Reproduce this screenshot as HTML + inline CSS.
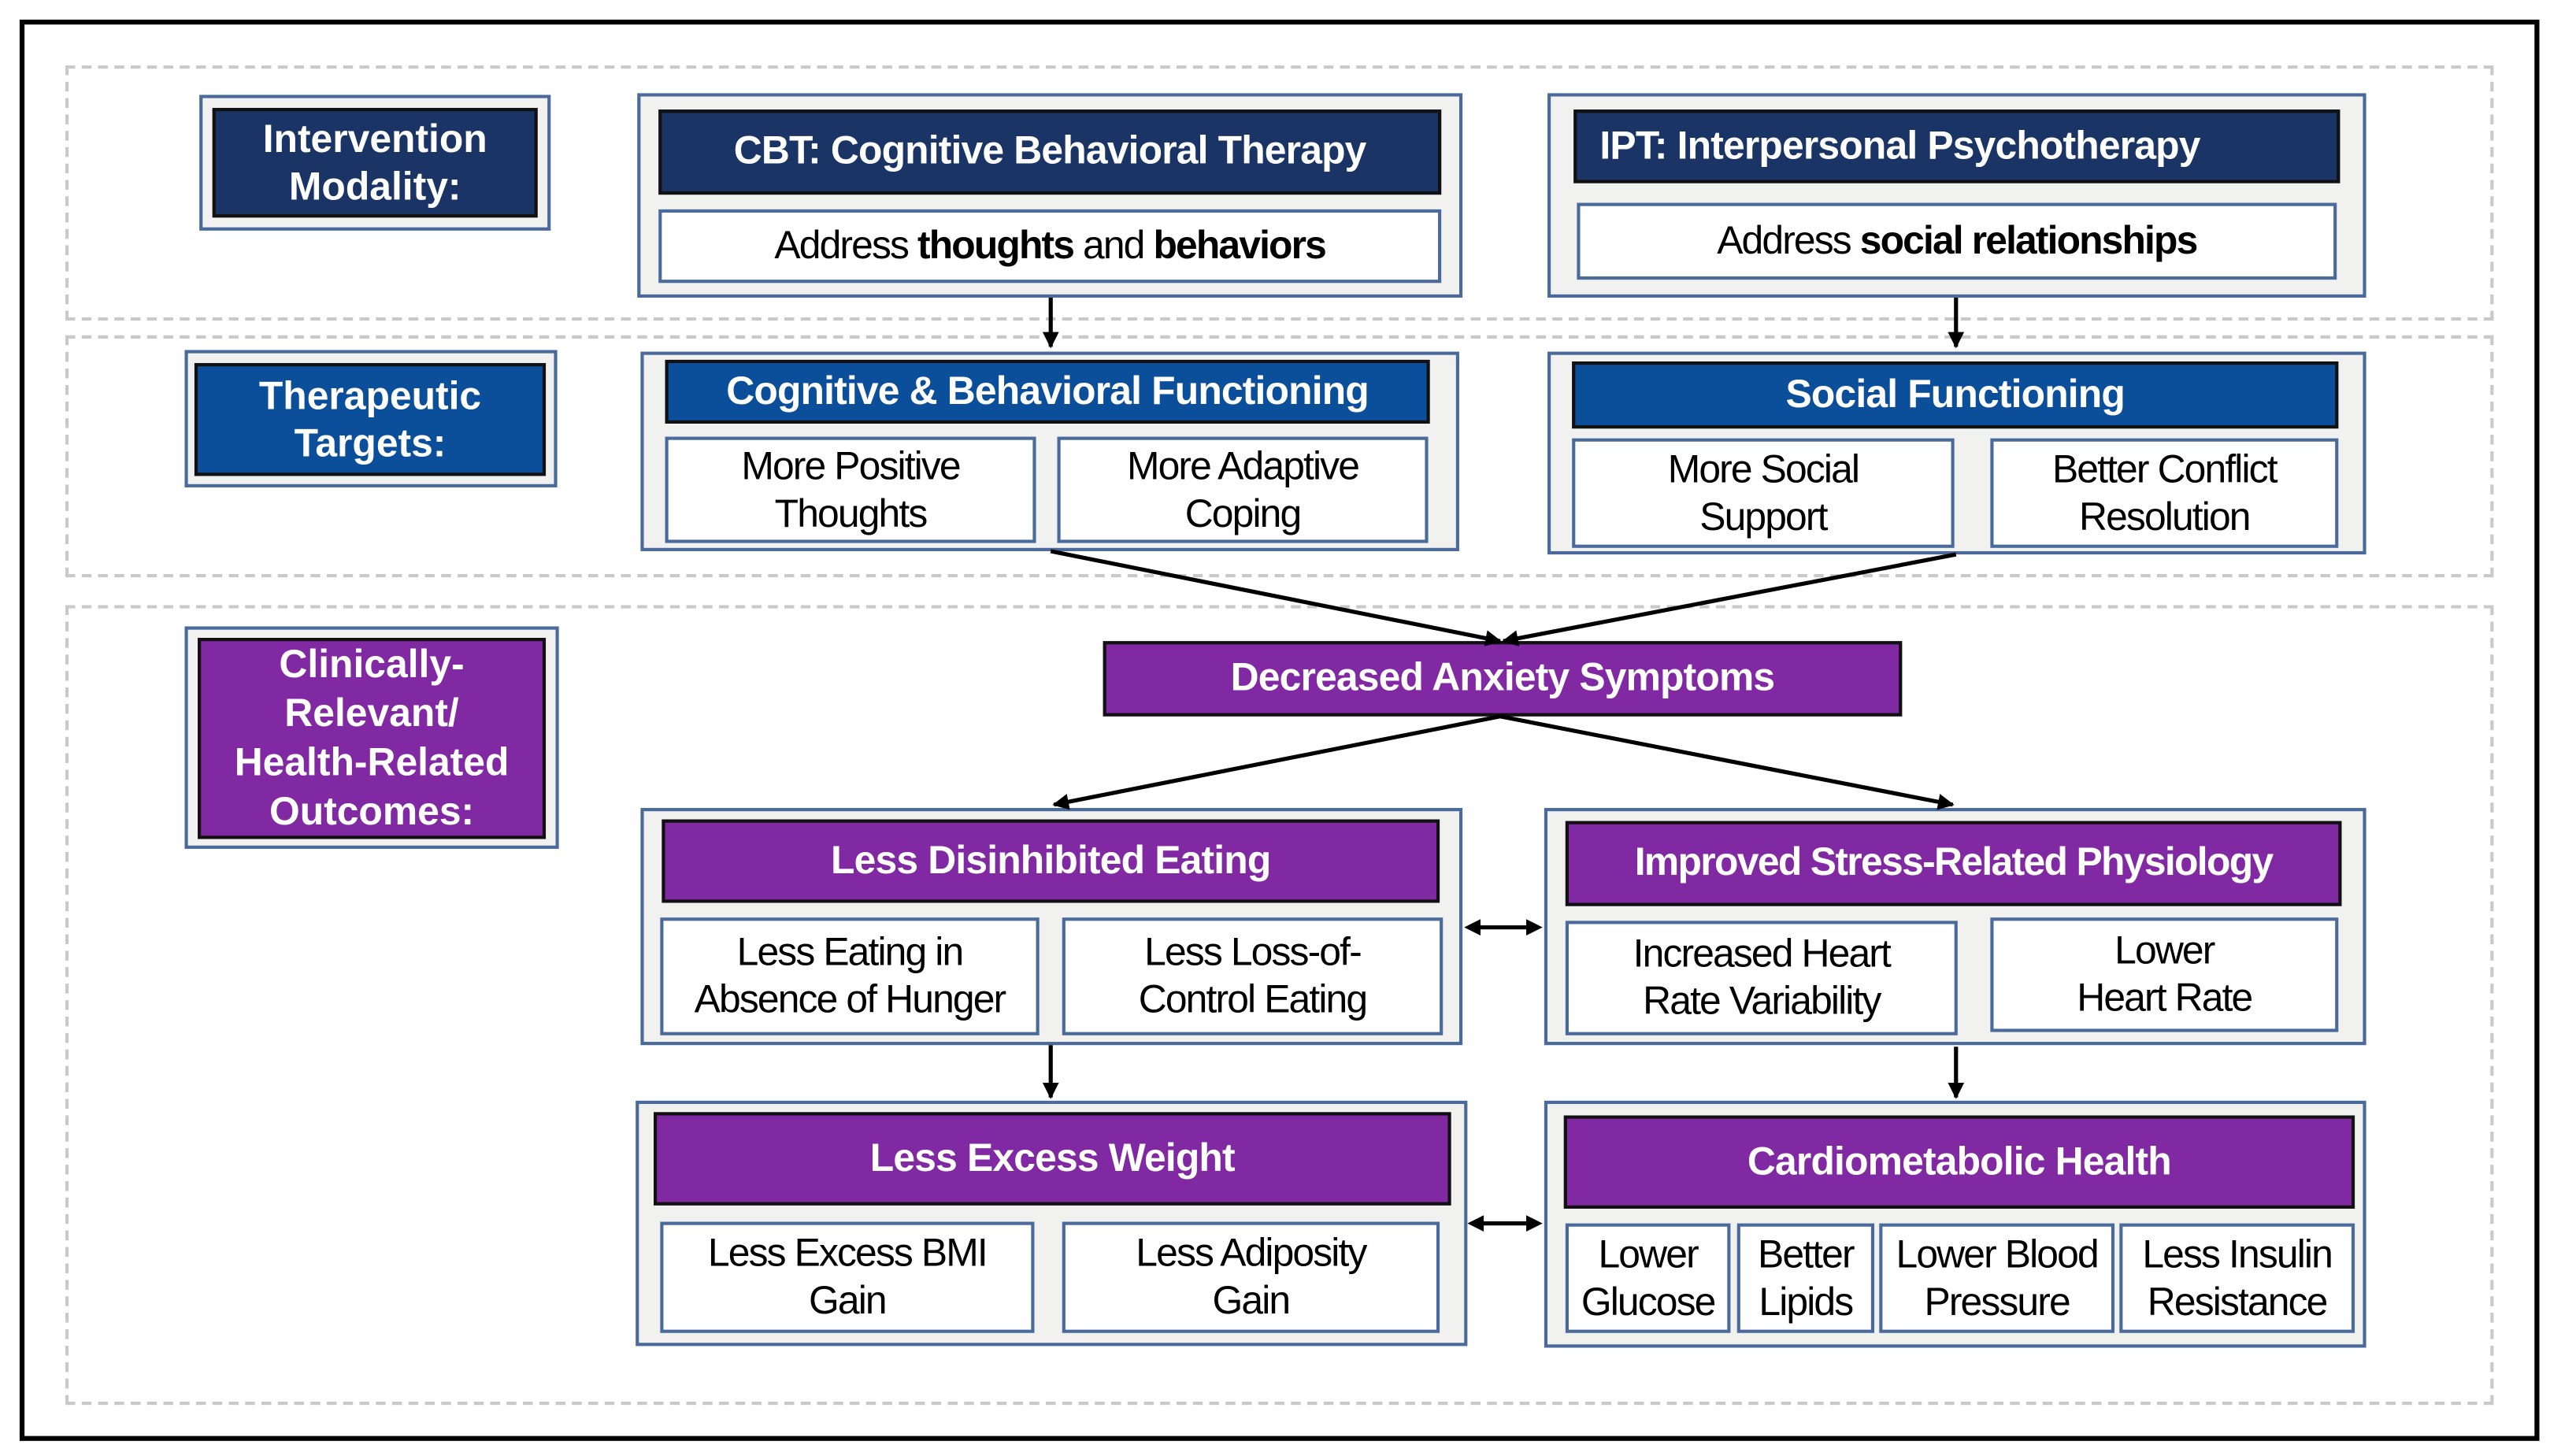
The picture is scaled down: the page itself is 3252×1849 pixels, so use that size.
<!DOCTYPE html>
<html><head><meta charset="utf-8"><style>
html,body{margin:0;padding:0;background:#fff;}
body{width:3252px;height:1849px;overflow:hidden;position:relative;}
#c{position:absolute;left:0;top:0;width:1563px;height:888px;transform:scale(2.075,2.077);transform-origin:0 0;font-family:"Liberation Sans",Arial,sans-serif;}
.a{position:absolute;box-sizing:border-box;}
.fr{background:#f1f1f0;border:2px solid #4a6a9c;}
.h{display:flex;align-items:center;justify-content:center;text-align:center;color:#fff;font-weight:bold;border:2px solid #111;white-space:nowrap;letter-spacing:-0.4px;}
.n{background:#1a3565;}
.b{background:#0b4f9b;}
.p{background:#8029a3;}
.w{background:#fff;border:2px solid #4a6a9c;display:flex;align-items:center;justify-content:center;text-align:center;color:#000;font-size:24px;line-height:29px;letter-spacing:-0.9px;white-space:nowrap;}
.hs{font-size:24px;}
.lab{font-size:24px;line-height:29px;letter-spacing:0;}
.d{position:absolute;box-sizing:border-box;border:2px dashed #c9c9c9;}
</style></head><body><div id="c">
<div class="a" style="left:12px;top:12px;width:1542px;height:869px;border:3px solid #000;"></div>
<div class="d" style="left:40px;top:40px;width:1486px;height:156px;"></div>
<div class="d" style="left:40px;top:205px;width:1486px;height:148px;"></div>
<div class="d" style="left:40px;top:370px;width:1486px;height:489px;"></div>

<div class="a fr" style="left:122px;top:58px;width:215px;height:83px;"></div>
<div class="a h n lab" style="left:130px;top:66px;width:199px;height:67px;">Intervention<br>Modality:</div>
<div class="a fr" style="left:113px;top:214px;width:228px;height:84px;"></div>
<div class="a h b lab" style="left:119px;top:222px;width:215px;height:69px;">Therapeutic<br>Targets:</div>
<div class="a fr" style="left:113px;top:383px;width:229px;height:136px;"></div>
<div class="a h p lab" style="left:121px;top:390px;width:213px;height:123px;line-height:30px;">Clinically-<br>Relevant/<br>Health-Related<br>Outcomes:</div>

<div class="a fr" style="left:390px;top:57px;width:505px;height:125px;"></div>
<div class="a h n hs" style="left:403px;top:67px;width:479px;height:52px;">CBT: Cognitive Behavioral Therapy</div>
<div class="a w" style="left:403px;top:128px;width:479px;height:45px;">Address&nbsp;<b>thoughts</b>&nbsp;and&nbsp;<b>behaviors</b></div>
<div class="a fr" style="left:947px;top:57px;width:501px;height:125px;"></div>
<div class="a h n hs" style="left:963px;top:67px;width:469px;height:45px;justify-content:flex-start;padding-left:14px;">IPT: Interpersonal Psychotherapy</div>
<div class="a w" style="left:965px;top:124px;width:465px;height:47px;">Address&nbsp;<b>social relationships</b></div>

<div class="a fr" style="left:392px;top:215px;width:501px;height:122px;"></div>
<div class="a h b hs" style="left:407px;top:220px;width:468px;height:39px;">Cognitive &amp; Behavioral Functioning</div>
<div class="a w" style="left:407px;top:267px;width:227px;height:65px;">More Positive<br>Thoughts</div>
<div class="a w" style="left:647px;top:267px;width:227px;height:65px;">More Adaptive<br>Coping</div>
<div class="a fr" style="left:947px;top:215px;width:501px;height:124px;"></div>
<div class="a h b hs" style="left:962px;top:221px;width:469px;height:41px;">Social Functioning</div>
<div class="a w" style="left:962px;top:268px;width:234px;height:67px;">More Social<br>Support</div>
<div class="a w" style="left:1218px;top:268px;width:213px;height:67px;">Better Conflict<br>Resolution</div>

<div class="a h p hs" style="left:675px;top:392px;width:489px;height:46px;">Decreased Anxiety Symptoms</div>

<div class="a fr" style="left:392px;top:494px;width:503px;height:145px;"></div>
<div class="a h p hs" style="left:405px;top:501px;width:476px;height:51px;">Less Disinhibited Eating</div>
<div class="a w" style="left:404px;top:561px;width:232px;height:72px;">Less Eating in<br>Absence of Hunger</div>
<div class="a w" style="left:650px;top:561px;width:233px;height:72px;">Less Loss-of-<br>Control Eating</div>
<div class="a fr" style="left:945px;top:494px;width:503px;height:145px;"></div>
<div class="a h p hs" style="left:958px;top:502px;width:475px;height:52px;letter-spacing:-0.8px;">Improved Stress-Related Physiology</div>
<div class="a w" style="left:958px;top:563px;width:240px;height:70px;">Increased Heart<br>Rate Variability</div>
<div class="a w" style="left:1218px;top:561px;width:213px;height:70px;">Lower<br>Heart Rate</div>

<div class="a fr" style="left:389px;top:673px;width:509px;height:150px;"></div>
<div class="a h p hs" style="left:400px;top:680px;width:488px;height:57px;">Less Excess Weight</div>
<div class="a w" style="left:404px;top:747px;width:229px;height:68px;">Less Excess BMI<br>Gain</div>
<div class="a w" style="left:650px;top:747px;width:231px;height:68px;">Less Adiposity<br>Gain</div>
<div class="a fr" style="left:945px;top:673px;width:503px;height:151px;"></div>
<div class="a h p hs" style="left:957px;top:682px;width:484px;height:57px;">Cardiometabolic Health</div>
<div class="a w" style="left:958px;top:748px;width:101px;height:67px;">Lower<br>Glucose</div>
<div class="a w" style="left:1063px;top:748px;width:84px;height:67px;">Better<br>Lipids</div>
<div class="a w" style="left:1150px;top:748px;width:144px;height:67px;">Lower Blood<br>Pressure</div>
<div class="a w" style="left:1297px;top:748px;width:144px;height:67px;">Less Insulin<br>Resistance</div>

<svg class="a" style="left:0;top:0" width="1563" height="888" viewBox="0 0 1563 888">
<defs><marker id="m" markerWidth="10" markerHeight="10" refX="9" refY="5" orient="auto" markerUnits="userSpaceOnUse"><path d="M0,0 L10,5 L0,10 z" fill="#000"/></marker></defs>
<g stroke="#000" stroke-width="2.5" fill="none">
<line x1="643" y1="182" x2="643" y2="212" marker-end="url(#m)"/>
<line x1="1197" y1="182" x2="1197" y2="212" marker-end="url(#m)"/>
<line x1="643" y1="337" x2="918" y2="392" marker-end="url(#m)"/>
<line x1="1197" y1="339" x2="920" y2="392" marker-end="url(#m)"/>
<line x1="918" y1="438" x2="645" y2="492" marker-end="url(#m)"/>
<line x1="918" y1="438" x2="1195" y2="492" marker-end="url(#m)"/>
<line x1="643" y1="639" x2="643" y2="671" marker-end="url(#m)"/>
<line x1="1197" y1="640" x2="1197" y2="671" marker-end="url(#m)"/>
<line x1="904" y1="567" x2="938" y2="567"/>
<line x1="904" y1="748" x2="938" y2="748"/>
</g>
<path d="M896,567 L906,562 L906,572 z M944,567 L934,562 L934,572 z M898,748 L908,743 L908,753 z M944,748 L934,743 L934,753 z" fill="#000"/>
</svg>
</div></body></html>
